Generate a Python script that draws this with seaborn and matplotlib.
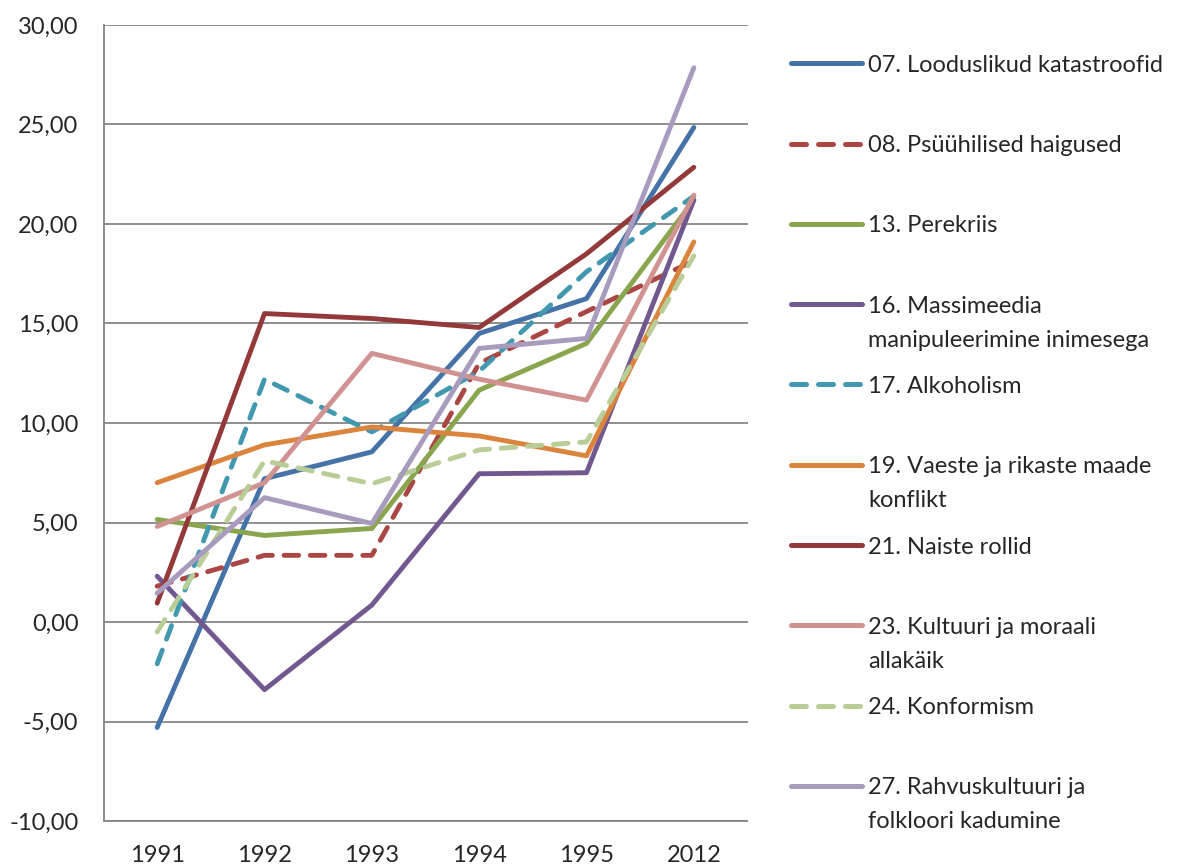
import matplotlib.pyplot as plt
import matplotlib.ticker as mticker
from matplotlib.lines import Line2D
import pandas as pd
import seaborn as sns

years = ["1991", "1992", "1993", "1994", "1995", "2012"]

labels = [
    "07. Looduslikud katastroofid",
    "08. Psüühilised haigused",
    "13. Perekriis",
    "16. Massimeedia\nmanipuleerimine inimesega",
    "17. Alkoholism",
    "19. Vaeste ja rikaste maade\nkonflikt",
    "21. Naiste rollid",
    "23. Kultuuri ja moraali\nallakäik",
    "24. Konformism",
    "27. Rahvuskultuuri ja\nfolkloori kadumine",
]

s07 = [-5.3, 7.2, 8.55, 14.5, 16.25, 24.85]
s08 = [1.8, 3.35, 3.35, 13.0, 15.6, 18.15]
s13 = [5.15, 4.35, 4.7, 11.65, 14.0, 21.2]
s16 = [2.3, -3.4, 0.85, 7.45, 7.5, 21.2]
s17 = [-2.1, 12.2, 9.55, 12.6, 17.6, 21.4]
s19 = [7.0, 8.9, 9.8, 9.35, 8.35, 19.1]
s21 = [0.95, 15.5, 15.25, 14.8, 18.5, 22.85]
s23 = [4.8, 7.0, 13.5, 12.2, 11.15, 21.45]
s24 = [-0.5, 8.1, 6.95, 8.65, 9.05, 18.4]
s27 = [1.45, 6.25, 4.95, 13.75, 14.25, 27.85]
series = [s07, s08, s13, s16, s17, s19, s21, s23, s24, s27]

colors = ["#4572A7", "#AA4643", "#89A54E", "#71588F", "#4198AF",
          "#DB843D", "#93393A", "#D09392", "#B9CD96", "#A99BBD"]
dashed = [False, True, False, False, True, False, False, False, True, False]

sns.set_style("white")
plt.rcParams["font.family"] = ["Lato", "DejaVu Sans"]
plt.rcParams["lines.solid_capstyle"] = "round"
plt.rcParams["lines.dash_capstyle"] = "round"
plt.rcParams["lines.solid_joinstyle"] = "round"

# long format table for seaborn
rows = []
for lab, vals in zip(labels, series):
    for i, v in enumerate(vals):
        rows.append({"series": lab, "pos": i, "value": v})
df = pd.DataFrame(rows)

W, H = 1178, 866
FS = 17
fig = plt.figure(figsize=(W / 100, H / 100), dpi=100)
ax = fig.add_axes([103.5 / W, 1 - 821 / H, 644 / W, 796 / H])

dash_pat = (3, 2.4)
sns.lineplot(data=df, x="pos", y="value", hue="series", style="series",
             palette=dict(zip(labels, colors)),
             dashes={l: (dash_pat if d else "") for l, d in zip(labels, dashed)},
             linewidth=3.5, sort=False, legend=False, ax=ax)

ax.set_xlim(-0.5, len(years) - 0.5)
ax.set_ylim(-10, 30)
ax.yaxis.set_major_locator(mticker.MultipleLocator(5))
ax.yaxis.set_major_formatter(
    mticker.FuncFormatter(lambda v, p: ("%.2f" % v).replace(".", ",")))
ax.set_xticks(range(len(years)))
ax.set_xticklabels(years)
ax.set_xticks([i - 0.5 for i in range(len(years) + 1)], minor=True)
ax.tick_params(axis="x", which="major", length=0, pad=17, labelsize=FS)
ax.tick_params(axis="x", which="minor", length=6, width=1.3,
               color="#868686", direction="out")
ax.tick_params(axis="y", length=6, width=1.3, color="#868686",
               direction="out", pad=12, labelsize=FS)
ax.yaxis.grid(True, color="#868686", linewidth=1.3)
ax.set_axisbelow(True)
for s in ["top", "right"]:
    ax.spines[s].set_visible(False)
for s in ["left", "bottom"]:
    ax.spines[s].set_color("#868686")
    ax.spines[s].set_linewidth(1.3)
ax.set_xlabel("")
ax.set_ylabel("")

# legend drawn by hand, Excel style
for i, (lab, c, d) in enumerate(zip(labels, colors, dashed)):
    y = 63.3 + 80.3 * i
    ln = Line2D([791 / W, 862 / W], [1 - y / H, 1 - y / H], color=c,
                linewidth=3.6, transform=fig.transFigure)
    if d:
        ln.set_dashes(dash_pat)
    fig.add_artist(ln)
    for k, part in enumerate(lab.split("\n")):
        fig.text(868 / W, 1 - (y + 34 * k) / H, part, fontsize=FS,
                 va="center_baseline", ha="left")

fig.savefig("out.png", dpi=100)
